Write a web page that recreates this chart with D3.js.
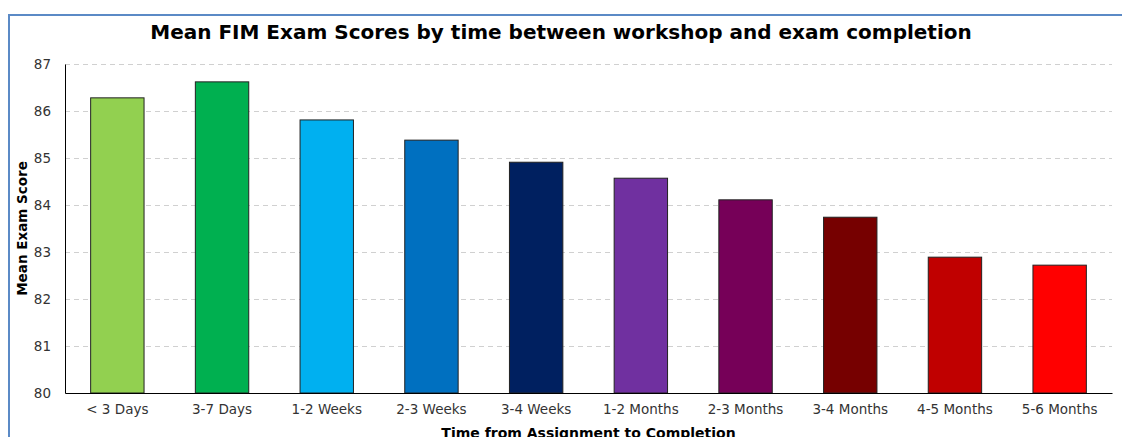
<!DOCTYPE html>
<html>
<head>
<meta charset="utf-8">
<script src="https://cdn.jsdelivr.net/npm/d3@7"></script>
<style>
  body { margin: 0; background: #fff; }
  svg { display: block; font-family: "DejaVu Sans", sans-serif; }
  .grid line { stroke: #d0d0d0; stroke-dasharray: 5,4; }
</style>
</head>
<body>
<div id="chart"></div>
<script>
// values
var categories = ["< 3 Days", "3-7 Days", "1-2 Weeks", "2-3 Weeks", "3-4 Weeks",
                  "1-2 Months", "2-3 Months", "3-4 Months", "4-5 Months", "5-6 Months"]
var meanScores = [86.28, 86.62, 85.81, 85.38, 84.91, 84.57, 84.11, 83.74, 82.89, 82.72]
var barColors = ["#92d050", "#00b050", "#00b0f0", "#0070c0", "#002060",
                 "#7030a0", "#760058", "#760000", "#c00000", "#ff0000"]
var yTicks = [80, 81, 82, 83, 84, 85, 86, 87]

var width = 1122, height = 437
var margin = {top: 64, right: 10, bottom: 44, left: 65}
var w = width - margin.left - margin.right
var h = height - margin.top - margin.bottom

var svg = d3.select("#chart").append("svg")
    .attr("width", width)
    .attr("height", height)

// frame
svg.append("path")
    .attr("d", "M9,437 V15 H1122")
    .attr("fill", "none")
    .attr("stroke", "#5b8ac6")
    .attr("stroke-width", 2)

var plot = svg.append("g")
    .attr("transform", `translate(${margin.left},${margin.top})`)

var xScale = d3.scaleBand().domain(categories).range([0, w]).paddingInner(0.49).paddingOuter(0.245)
var yScale = d3.scaleLinear().domain([80, 87]).range([h, 0])

plot.append("g")
    .attr("class", "grid")
    .call(d3.axisLeft(yScale).tickValues(yTicks.slice(1)).tickSize(-w).tickFormat(""))
    .call(g => g.select(".domain").remove())

plot.selectAll("rect.bar")
    .data(meanScores)
    .enter().append("rect")
    .attr("class", "bar")
    .attr("x", (d, i) => xScale(categories[i]))
    .attr("y", d => yScale(d))
    .attr("width", xScale.bandwidth())
    .attr("height", d => h - yScale(d))
    .attr("fill", (d, i) => barColors[i])
    .attr("stroke", "#222")
    .attr("stroke-width", 1)

var yAxis = plot.append("g")
    .call(d3.axisLeft(yScale).tickValues(yTicks).tickFormat(d3.format("d")).tickSize(0).tickPadding(14))
yAxis.select(".domain").attr("stroke", "#000")

var xAxis = plot.append("g")
    .attr("transform", `translate(0,${h})`)
    .call(d3.axisBottom(xScale).tickSize(0).tickPadding(11))
xAxis.select(".domain").attr("stroke", "#000")

plot.selectAll(".tick text")
    .attr("fill", "#333")
    .style("font-family", "'DejaVu Sans', sans-serif")
    .style("font-size", "13.5px")

svg.append("text")
    .attr("x", 561)
    .attr("y", 39)
    .attr("text-anchor", "middle")
    .style("font-size", "20px")
    .style("font-weight", "bold")
    .text("Mean FIM Exam Scores by time between workshop and exam completion")

svg.append("text")
    .attr("transform", `translate(27,${margin.top + h / 2}) rotate(-90)`)
    .attr("text-anchor", "middle")
    .style("font-size", "13.5px")
    .style("font-weight", "bold")
    .text("Mean Exam Score")

svg.append("text")
    .attr("x", margin.left + w / 2)
    .attr("y", 438)
    .attr("text-anchor", "middle")
    .style("font-size", "14px")
    .style("font-weight", "bold")
    .text("Time from Assignment to Completion")
</script>
</body>
</html>
